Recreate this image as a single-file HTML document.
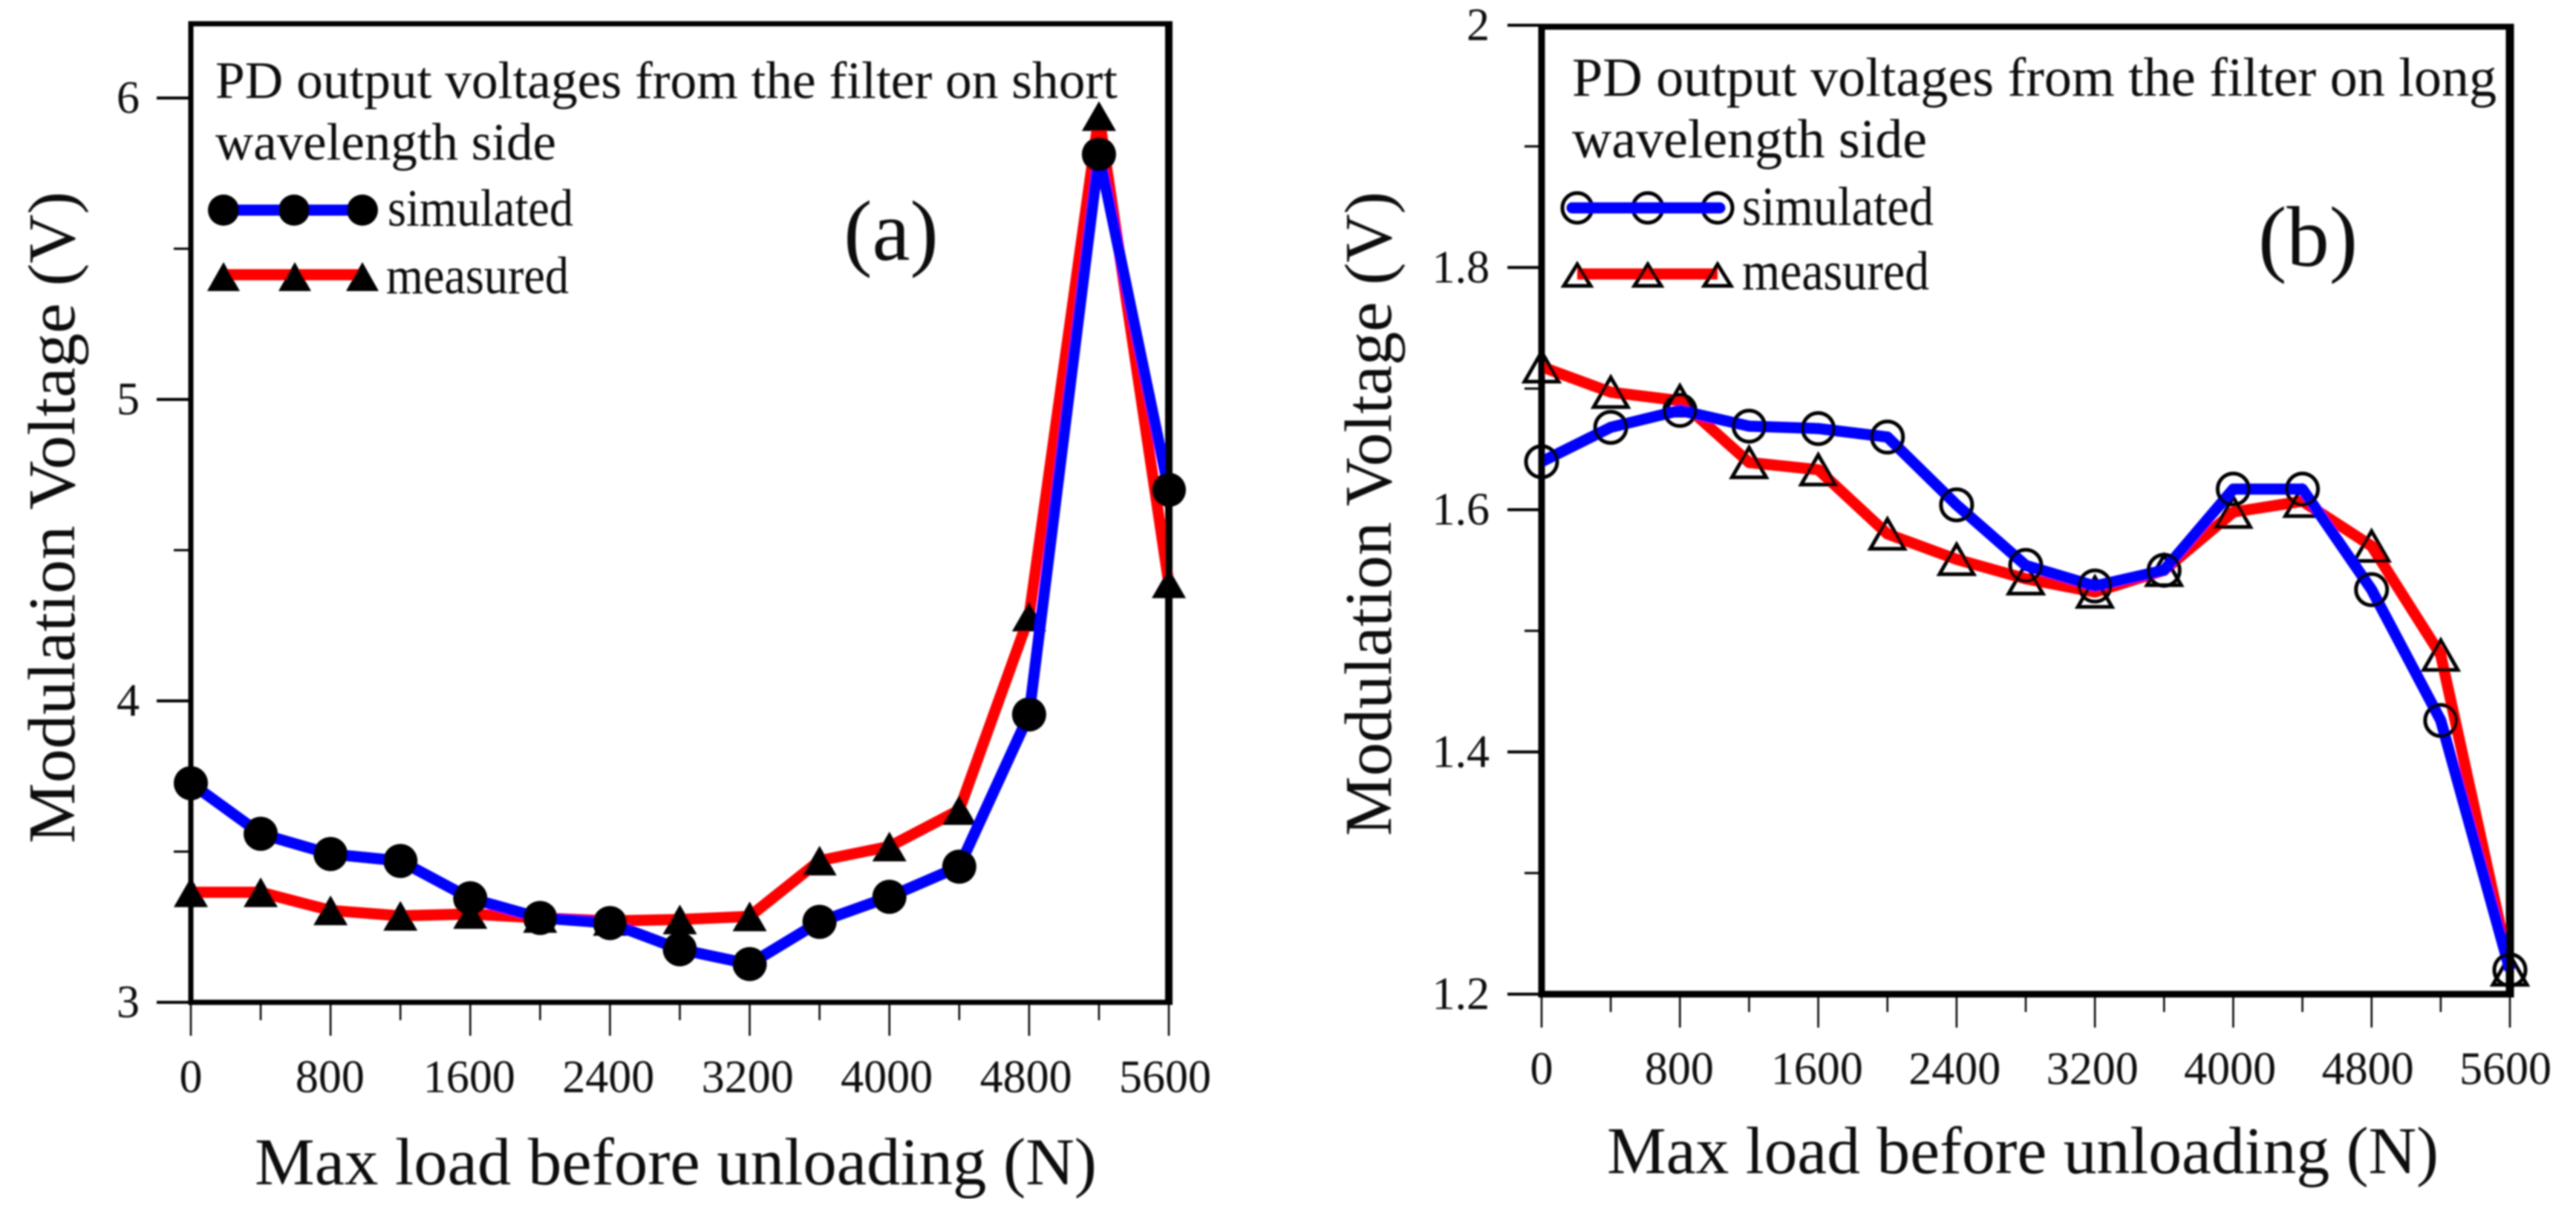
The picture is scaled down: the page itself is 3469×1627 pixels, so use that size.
<!DOCTYPE html>
<html lang="en">
<head>
<meta charset="utf-8">
<title>Modulation voltage vs max load</title>
<style>
html,body{margin:0;padding:0;background:#fff;}
svg{display:block;}
text{font-family:"Liberation Serif",serif;fill:#0c0c0c;}
</style>
</head>
<body>
<svg id="figure" xmlns="http://www.w3.org/2000/svg" width="3469" height="1627" viewBox="0 0 3469 1627">
  <defs><filter id="soft" x="0" y="0" width="100%" height="100%"><feGaussianBlur stdDeviation="1.1"/></filter></defs>
  <rect width="3469" height="1627" fill="#fff"/>
  <g filter="url(#soft)">
    <g id="panel-a">
      <g id="a-series"></g>
      <g id="a-axes"></g>
      <text x="100" y="1136" font-size="90" textLength="878" lengthAdjust="spacingAndGlyphs" transform="rotate(-90 100 1136)">Modulation Voltage (V)</text>
      <text x="343" y="1595" font-size="90" textLength="1134" lengthAdjust="spacingAndGlyphs">Max load before unloading (N)</text>
      <text x="290" y="132" font-size="71" textLength="1215" lengthAdjust="spacingAndGlyphs">PD output voltages from the filter on short</text>
      <text x="290" y="215" font-size="71" textLength="459" lengthAdjust="spacingAndGlyphs">wavelength side</text>
      <text x="1200" y="350" font-size="115" text-anchor="middle">(a)</text>
      <g>
        <line x1="301" y1="283" x2="488" y2="283" stroke="#0000ff" stroke-width="15"/>
        <circle cx="301" cy="283" r="21" fill="#000"/>
        <circle cx="396" cy="283" r="21" fill="#000"/>
        <circle cx="488" cy="283" r="21" fill="#000"/>
        <text x="522" y="304" font-size="71" textLength="250" lengthAdjust="spacingAndGlyphs">simulated</text>
        <line x1="301" y1="370" x2="488" y2="370" stroke="#ff0000" stroke-width="15"/>
        <polygon points="301,353 323,392 279,392" fill="#000"/>
        <polygon points="397,353 419,392 375,392" fill="#000"/>
        <polygon points="488,353 510,392 466,392" fill="#000"/>
        <text x="520" y="395" font-size="71" textLength="246" lengthAdjust="spacingAndGlyphs">measured</text>
      </g>
    </g>
    <g id="panel-b">
      <g id="b-series"></g>
      <g id="b-axes"></g>
      <text x="1873" y="1126" font-size="90" textLength="868" lengthAdjust="spacingAndGlyphs" transform="rotate(-90 1873 1126)">Modulation Voltage (V)</text>
      <text x="2164" y="1580" font-size="90" textLength="1120" lengthAdjust="spacingAndGlyphs">Max load before unloading (N)</text>
      <text x="2117" y="129" font-size="74" textLength="1245" lengthAdjust="spacingAndGlyphs">PD output voltages from the filter on long</text>
      <text x="2117" y="212" font-size="74" textLength="478" lengthAdjust="spacingAndGlyphs">wavelength side</text>
      <text x="3108" y="358" font-size="115" text-anchor="middle">(b)</text>
      <g>
        <circle cx="2124" cy="280" r="20" fill="none" stroke="#000" stroke-width="5"/>
        <circle cx="2219" cy="280" r="20" fill="none" stroke="#000" stroke-width="5"/>
        <circle cx="2313" cy="280" r="20" fill="none" stroke="#000" stroke-width="5"/>
        <line x1="2117" y1="280" x2="2316" y2="280" stroke="#0000ff" stroke-width="15" stroke-linecap="round"/>
        <text x="2346" y="303" font-size="74" textLength="258" lengthAdjust="spacingAndGlyphs">simulated</text>
        <line x1="2124" y1="369" x2="2313" y2="369" stroke="#ff0000" stroke-width="15"/>
        <polygon points="2124,356 2142,385 2106,385" fill="none" stroke="#000" stroke-width="5"/>
        <polygon points="2219,356 2237,385 2201,385" fill="none" stroke="#000" stroke-width="5"/>
        <polygon points="2313,356 2331,385 2295,385" fill="none" stroke="#000" stroke-width="5"/>
        <text x="2346" y="390" font-size="74" textLength="252" lengthAdjust="spacingAndGlyphs">measured</text>
      </g>
    </g>
  </g>
</svg>
<script>
const loads = [0,400,800,1200,1600,2000,2400,2800,3200,3600,4000,4400,4800,5200,5600];
const simulatedA = [3.727,3.559,3.492,3.469,3.345,3.28,3.263,3.176,3.127,3.267,3.35,3.45,3.955,5.813,4.70];
const measuredA = [3.365,3.365,3.305,3.287,3.293,3.28,3.27,3.275,3.285,3.47,3.517,3.638,4.28,5.94,4.39];
const simulatedB = [1.6396,1.668,1.682,1.669,1.667,1.66,1.604,1.554,1.537,1.55,1.617,1.617,1.534,1.426,1.22];
const measuredB = [1.718,1.697,1.69,1.639,1.633,1.58,1.559,1.543,1.532,1.55,1.598,1.607,1.57,1.48,1.22];
const xMajorTicks = [0,800,1600,2400,3200,4000,4800,5600];
const xMinorTicks = [400,1200,2000,2800,3600,4400,5200];
const yMajorTicksA = [3,4,5,6];
const yMinorTicksA = [3.5,4.5,5.5];
const yLabelsA = ['3','4','5','6'];
const yMajorTicksB = [1.2,1.4,1.6,1.8,2];
const yMinorTicksB = [1.3,1.5,1.7,1.9];
const yLabelsB = ['1.2','1.4','1.6','1.8','2'];

const NS = 'http://www.w3.org/2000/svg';
function make(parent, tag, attrs){
  const el = document.createElementNS(NS, tag);
  for (const k in attrs) el.setAttribute(k, attrs[k]);
  parent.appendChild(el);
  return el;
}
function drawPanel(p){
  const sx = v => p.left + (v - 0) / 5600 * (p.right - p.left);
  const sy = v => p.bottom - (v - p.yMin) / (p.yMax - p.yMin) * (p.bottom - p.yTop);
  const axes = document.getElementById(p.id + '-axes');
  const series = document.getElementById(p.id + '-series');

  // frame
  const sides = [
    ['left', p.left, p.top, p.left, p.bottom, p.sw[0]],
    ['right', p.right, p.top, p.right, p.bottom, p.sw[1]],
    ['top', p.left - p.sw[0]/2, p.top, p.right + p.sw[1]/2, p.top, p.sw[2]],
    ['bottom', p.left - p.sw[0]/2, p.bottom, p.right + p.sw[1]/2, p.bottom, p.sw[3]]
  ];
  sides.forEach(s => {
    const el = make(axes, 'line', {x1:s[1], y1:s[2], x2:s[3], y2:s[4], stroke:'#000', 'stroke-width':s[5]});
    
    
  });

  // x ticks
  xMajorTicks.forEach(v => {
    const t = make(axes, 'line', {x1:sx(v), y1:p.bottom, x2:sx(v), y2:p.bottom + 45, stroke:'#000', 'stroke-width':2.5});
    
    
    const l = make(axes, 'text', {x:sx(v) - p.xLabelShift * v / 5600, y:p.xLabelY, 'font-size':62, 'text-anchor':'middle'});
    l.textContent = String(v);
    
    
  });
  xMinorTicks.forEach(v => {
    const t = make(axes, 'line', {x1:sx(v), y1:p.bottom, x2:sx(v), y2:p.bottom + 24, stroke:'#000', 'stroke-width':2.5});
    
    
  });

  // y ticks
  p.yMajor.forEach((v, i) => {
    const t = make(axes, 'line', {x1:p.left - 46, y1:sy(v), x2:p.left, y2:sy(v), stroke:'#000', 'stroke-width':4});
    
    
    const l = make(axes, 'text', {x:p.yLabelX, y:sy(v) + 20, 'font-size':62, 'text-anchor':'end'});
    l.textContent = p.yLabels[i];
    
    
  });
  p.yMinor.forEach(v => {
    const t = make(axes, 'line', {x1:p.left - 23, y1:sy(v), x2:p.left, y2:sy(v), stroke:'#000', 'stroke-width':3});
    
    
  });

  // measured series
  const mLine = make(series, 'polyline', {
    points: loads.map((v, i) => sx(v) + ',' + sy(p.measured[i])).join(' '),
    fill:'none', stroke:'#ff0000', 'stroke-width':15, 'stroke-linejoin':'round'
  });
  
  
  loads.forEach((v, i) => {
    const cx = sx(v), cy = sy(p.measured[i]);
    const tri = make(series, 'polygon', {
      points: cx + ',' + (cy - 20) + ' ' + (cx + 23) + ',' + (cy + 20) + ' ' + (cx - 23) + ',' + (cy + 20),
      fill: p.hollow ? 'none' : '#000', stroke: p.hollow ? '#000' : 'none', 'stroke-width': p.hollow ? 5 : 0
    });
    
    
  });

  // simulated series
  const sLine = make(series, 'polyline', {
    points: loads.map((v, i) => sx(v) + ',' + sy(p.simulated[i])).join(' '),
    fill:'none', stroke:'#0000ff', 'stroke-width':15, 'stroke-linejoin':'round'
  });
  
  
  const top = document.getElementById(p.id + '-axes');
  loads.forEach((v, i) => {
    const c = make(top, 'circle', {
      cx:sx(v), cy:sy(p.simulated[i]), r: p.hollow ? 21 : 23,
      fill: p.hollow ? 'none' : '#000', stroke: p.hollow ? '#000' : 'none', 'stroke-width': p.hollow ? 5 : 0
    });
    
    
  });
}
drawPanel({id:'a', left:257, right:1574, top:32, bottom:1350, yTop:132, yMin:3, yMax:6,
  sw:[7,10,7,7], hollow:false, xLabelY:1471, xLabelShift:5, yLabelX:188,
  yMajor:yMajorTicksA, yMinor:yMinorTicksA, yLabels:yLabelsA, simulated:simulatedA, measured:measuredA});
drawPanel({id:'b', left:2076, right:3380, top:36, bottom:1339, yTop:34, yMin:1.2, yMax:2,
  sw:[9,11,8,9], hollow:true, xLabelY:1460, xLabelShift:6, yLabelX:2006,
  yMajor:yMajorTicksB, yMinor:yMinorTicksB, yLabels:yLabelsB, simulated:simulatedB, measured:measuredB});
</script>
</body>
</html>
